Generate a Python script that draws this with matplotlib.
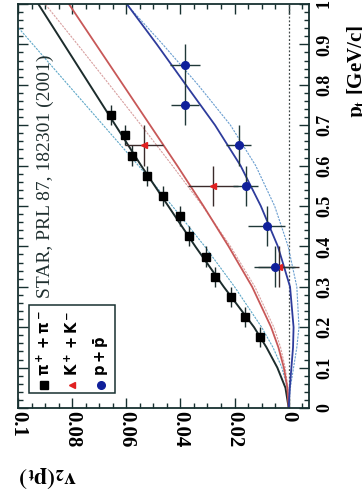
import matplotlib
matplotlib.use('Agg')
import matplotlib.pyplot as plt
from matplotlib.patches import Rectangle
from matplotlib.ticker import MultipleLocator

plt.rcParams['font.family'] = ['Liberation Serif', 'DejaVu Serif']
plt.rcParams['mathtext.fontset'] = 'stix'

# --- measured points (pt in GeV/c, v2) ---
pion_pt = [0.175, 0.225, 0.275, 0.325, 0.375, 0.425, 0.475, 0.525, 0.575, 0.625, 0.675, 0.725]
pion_v2 = [0.0107, 0.0162, 0.0214, 0.0273, 0.0306, 0.0369, 0.0402, 0.0465, 0.0524, 0.0579, 0.0605, 0.0657]
pion_v2_err = [0.001] * 12
pion_pt_err = [0.025] * 12

kaon_pt = [0.35, 0.55, 0.65]
kaon_v2 = [0.0037, 0.0280, 0.0535]
kaon_v2_err = [0.0075, 0.0093, 0.0070]
kaon_pt_err = [0.05, 0.05, 0.05]

proton_pt = [0.35, 0.45, 0.55, 0.65, 0.75, 0.85]
proton_v2 = [0.0052, 0.0081, 0.0159, 0.0185, 0.0384, 0.0384]
proton_v2_err = [0.0075, 0.0068, 0.0046, 0.0046, 0.0052, 0.0055]
proton_pt_err = [0.05] * 6

# --- model curves ---
curve_pt = [0, 0.05, 0.1, 0.15, 0.2, 0.3, 0.4, 0.5, 0.6, 0.7, 0.8, 0.9, 1.0]
pion_solid = [0, 0.0012, 0.0042, 0.0082, 0.0128, 0.0240, 0.0345, 0.0445, 0.0545, 0.0640, 0.0735, 0.0830, 0.0925]
pion_dotted = [0, 0.0005, 0.0025, 0.0058, 0.0100, 0.0200, 0.0310, 0.0430, 0.0555, 0.0685, 0.0815, 0.0945, 0.1075]
kaon_solid = [0, 0.0005, 0.0018, 0.0038, 0.0065, 0.0135, 0.0222, 0.0315, 0.0412, 0.0512, 0.0612, 0.0712, 0.0812]
kaon_dotted = [0, 0.0003, 0.0013, 0.0030, 0.0055, 0.0125, 0.0215, 0.0318, 0.0430, 0.0545, 0.0662, 0.0780, 0.0900]
proton_solid = [0, -0.0004, -0.0010, -0.0016, -0.0018, -0.0005, 0.0040, 0.0103, 0.0178, 0.0272, 0.0380, 0.0487, 0.0598]
proton_dotted = [0, -0.0006, -0.0018, -0.0030, -0.0038, -0.0030, 0.0002, 0.0052, 0.0122, 0.0215, 0.0335, 0.0465, 0.0600]

v2_ticks = [0.1, 0.08, 0.06, 0.04, 0.02, 0]
v2_labels = ['0.1', '0.08', '0.06', '0.04', '0.02', '0']
pt_ticks = [0, 0.1, 0.2, 0.3, 0.4, 0.5, 0.6, 0.7, 0.8, 0.9, 1.0]
pt_labels = ['0', '0.1', '0.2', '0.3', '0.4', '0.5', '0.6', '0.7', '0.8', '0.9', '1']

W, H = 362, 500
def fx(px): return px / W
def fy(py): return 1 - py / H

FRAME = '#173030'
fig = plt.figure(figsize=(3.62, 5.0), dpi=100)
ax = fig.add_axes([fx(18), fy(408), fx(309) - fx(18), fy(4) - fy(408)])

# figure is rotated: v2 runs horizontally (reversed), pt runs vertically
ax.axvline(0, color='#404848', lw=0.9, ls=(0, (1.5, 1.5)))
ax.plot(pion_dotted, curve_pt, color='#5fa8c8', lw=0.8, ls=(0, (2, 1)))
ax.plot(kaon_dotted, curve_pt, color='#d8a0a0', lw=0.8, ls=(0, (2, 1)))
ax.plot(proton_dotted, curve_pt, color='#6a9ed0', lw=0.8, ls=(0, (2, 1)))
ax.plot(pion_solid, curve_pt, color='#1c2c2c', lw=1.4)
ax.plot(kaon_solid, curve_pt, color='#c85858', lw=1.3)
ax.plot(proton_solid, curve_pt, color='#2e3c9c', lw=1.3)

ax.errorbar(pion_v2, pion_pt, xerr=pion_v2_err, yerr=pion_pt_err, fmt='s', color='black',
            ms=5.5, ecolor='#1c2c2c', elinewidth=1.0, capsize=0)
ax.errorbar(kaon_v2, kaon_pt, xerr=kaon_v2_err, yerr=kaon_pt_err, fmt='<', color='#e02020',
            ms=4, ecolor='#3a2a2a', elinewidth=1.0, capsize=0)
ax.errorbar(proton_v2, proton_pt, xerr=proton_v2_err, yerr=proton_pt_err, fmt='o', color='#10209a',
            ms=5.5, ecolor='#203838', elinewidth=1.0, capsize=0)

ax.set_xlim(0.1, -0.0075)
ax.set_ylim(0, 1.0)
ax.set_xticks(v2_ticks)
ax.set_xticklabels(v2_labels, rotation=-90, fontsize=15, fontweight='bold')
ax.xaxis.set_minor_locator(MultipleLocator(0.005))
ax.yaxis.tick_right()
ax.set_yticks(pt_ticks)
ax.set_yticklabels(pt_labels, rotation=90, fontsize=13, fontweight='bold', va='center')
ax.yaxis.set_minor_locator(MultipleLocator(0.02))
ax.tick_params(which='both', direction='in', top=True, bottom=True, left=True, right=True,
               color=FRAME, width=1.0)
ax.tick_params(which='major', length=7)
ax.tick_params(which='minor', length=3.5)
ax.tick_params(axis='x', pad=2)
ax.tick_params(axis='y', pad=5)
for s in ax.spines.values():
    s.set_color(FRAME)
    s.set_linewidth(1.3)

# texts
fig.text(fx(45), fy(298), 'STAR, PRL 87, 182301 (2001)', rotation=90, fontsize=14,
         ha='center', va='bottom', color='#203030')
fig.text(fx(357), fy(118), r'$\mathbf{p_t}$ [GeV/c]', rotation=90, fontsize=15,
         fontweight='bold', ha='center', va='bottom')
fig.text(fx(48), fy(477), r'$\mathbf{v_2(p_t)}$', rotation=180, fontsize=17,
         ha='center', va='center')

# legend box
fig.add_artist(Rectangle((fx(29), fy(393)), fx(115) - fx(29), fy(305) - fy(393),
                         transform=fig.transFigure, fill=False, ec=FRAME, lw=1.1))
legend_rows = [
    ('s', 'black', 5.5, r'$\mathbf{\pi^+ + \pi^-}$', 44),
    ('<', '#e02020', 4.5, r'$\mathbf{K^+ + K^-}$', 72),
    ('o', '#10209a', 5.5, r'$\mathbf{p + \bar{p}}$', 101),
]
for mk, col, ms, lab, px in legend_rows:
    fig.add_artist(plt.Line2D([fx(px)], [fy(385)], marker=mk, color=col, ms=ms, ls='none',
                              transform=fig.transFigure))
    fig.text(fx(px), fy(376), lab, rotation=90, fontsize=10.5, ha='center', va='bottom',
             math_fontfamily='dejavusans')

fig.savefig('out.png', dpi=100, facecolor='white')
